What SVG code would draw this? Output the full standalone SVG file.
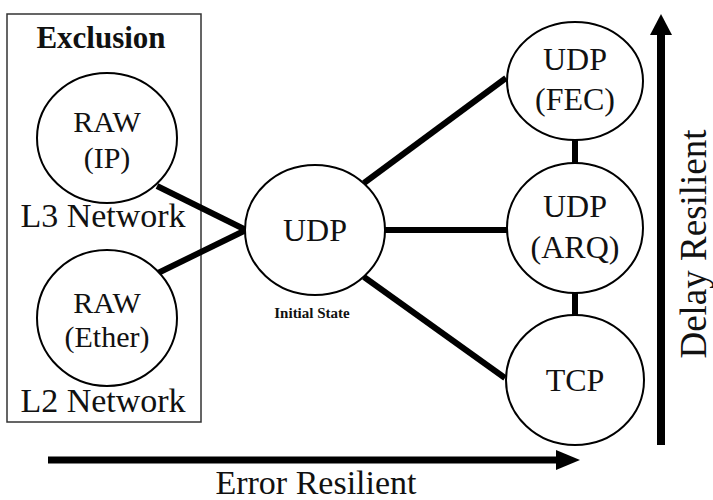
<svg xmlns="http://www.w3.org/2000/svg" width="713" height="500" viewBox="0 0 713 500">
<rect width="713" height="500" fill="#fff"/>
<g font-family="Liberation Serif, Times New Roman, serif" fill="#111" text-anchor="middle">
<g id="exclusion">
<rect x="7" y="14" width="194" height="408" fill="none" stroke="#333" stroke-width="1.5"/>
<text x="101" y="48" font-size="31" font-weight="bold">Exclusion</text>
<text x="103" y="227" font-size="34">L3 Network</text>
<text x="103" y="412" font-size="34">L2 Network</text>
</g>
<g id="connectors" stroke="#000" stroke-width="6" fill="none">
<line x1="157" y1="186" x2="246" y2="230"/>
<line x1="158" y1="273" x2="246" y2="230"/>
<line x1="364" y1="183" x2="506" y2="78"/>
<line x1="384" y1="230" x2="507" y2="230"/>
<line x1="364" y1="277" x2="505" y2="378"/>
<line x1="575" y1="138" x2="575" y2="165"/>
<line x1="575" y1="291" x2="575" y2="317"/>
</g>
<g id="raw-ip">
<ellipse cx="107" cy="138" rx="70" ry="65" fill="#fff" stroke="#000" stroke-width="2"/>
<text x="107" y="132" font-size="30">RAW</text>
<text x="107" y="168" font-size="30">(IP)</text>
</g>
<g id="raw-ether">
<ellipse cx="107" cy="318" rx="70" ry="68" fill="#fff" stroke="#000" stroke-width="2"/>
<text x="107" y="313" font-size="30">RAW</text>
<text x="107" y="347" font-size="30">(Ether)</text>
</g>
<g id="udp">
<ellipse cx="315" cy="230" rx="70" ry="65" fill="#fff" stroke="#000" stroke-width="2"/>
<text x="315" y="241" font-size="32">UDP</text>
<text x="312" y="318" font-size="15" font-weight="bold">Initial State</text>
</g>
<g id="udp-fec">
<ellipse cx="575" cy="81" rx="68" ry="59" fill="#fff" stroke="#000" stroke-width="2"/>
<text x="575" y="70" font-size="32">UDP</text>
<text x="575" y="110" font-size="32">(FEC)</text>
</g>
<g id="udp-arq">
<ellipse cx="575" cy="228" rx="68" ry="65" fill="#fff" stroke="#000" stroke-width="2"/>
<text x="575" y="217" font-size="32">UDP</text>
<text x="575" y="258" font-size="32">(ARQ)</text>
</g>
<g id="tcp">
<ellipse cx="575" cy="380" rx="69" ry="65" fill="#fff" stroke="#000" stroke-width="2"/>
<text x="575" y="391" font-size="32">TCP</text>
</g>
<g id="axes">
<line x1="48" y1="460" x2="558" y2="460" stroke="#000" stroke-width="7"/>
<polygon points="556,450 580,460 556,470" fill="#000"/>
<line x1="661" y1="445" x2="661" y2="33" stroke="#000" stroke-width="8"/>
<polygon points="650,35 661,14 672,35" fill="#000"/>
<text x="316" y="494" font-size="34">Error Resilient</text>
<text transform="translate(706,244) rotate(-90)" x="0" y="0" font-size="37">Delay Resilient</text>
</g>
</g>
</svg>
